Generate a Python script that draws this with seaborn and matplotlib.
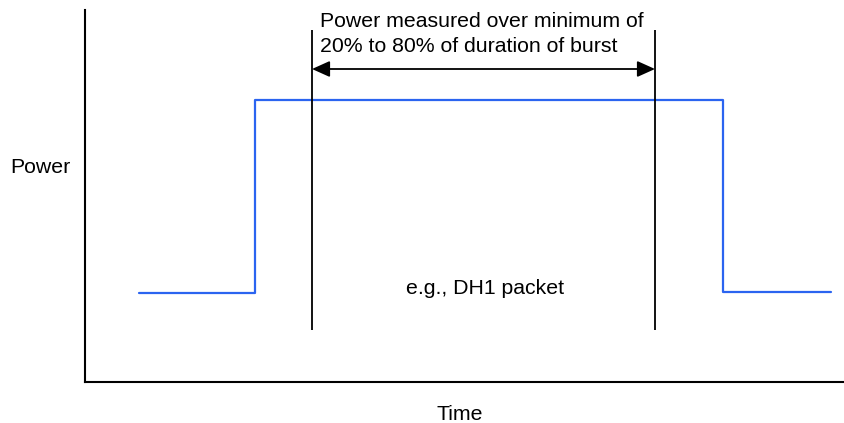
"""
plot.py
Diagrama de medição de potência de um burst (DH1) com seaborn/matplotlib.
"""

import matplotlib
matplotlib.use('Agg')
import matplotlib.pyplot as plt
import seaborn as sns
import pandas as pd

# ------------------------------------------------------------
# 0. Dados (unidades arbitrárias: tempo x potência)
# ------------------------------------------------------------
burst_time = [54, 170, 638, 746]
burst_power = [89, 282, 90, 90]

window_start = 227
window_end = 570
window_bottom = 52
window_top = 352
arrow_level = 313

x_range = (0, 759)
y_range = (0, 372)

title_text = "Power measured over minimum of\n20% to 80% of duration of burst"
packet_text = "e.g., DH1 packet"
x_label = "Time"
y_label = "Power"

FONT_SIZE = 15.3

# ------------------------------------------------------------
# 1. Estilo
# ------------------------------------------------------------
sns.set_theme(style='white')
plt.rcParams['font.family'] = ['Liberation Sans', 'DejaVu Sans']
plt.rcParams['text.color'] = 'black'
plt.rcParams['axes.labelcolor'] = 'black'

df = pd.DataFrame({'time': burst_time, 'power': burst_power})

fig = plt.figure(figsize=(8.44, 4.23), dpi=100)
ax = fig.add_axes([85 / 844, 41 / 423, 759 / 844, 372 / 423])

# ------------------------------------------------------------
# 2. Sinal do burst
# ------------------------------------------------------------
sns.lineplot(data=df, x='time', y='power', ax=ax, color='#2b64f0',
             linewidth=1.6, drawstyle='steps-post', sort=False)

# janela de medição
for xv in (window_start, window_end):
    ax.vlines(xv, window_bottom, window_top, color='black', linewidth=1.3)

ax.annotate('', xy=(window_start, arrow_level), xytext=(window_end, arrow_level),
            arrowprops=dict(arrowstyle='<|-|>,head_length=0.6,head_width=0.27',
                            color='black', lw=1.3, mutation_scale=18,
                            shrinkA=0, shrinkB=0))

ax.text(window_start + 8, 370, title_text, ha='left', va='top',
        fontsize=FONT_SIZE, linespacing=1.42)
ax.text(400, 93, packet_text, ha='center', va='center', fontsize=FONT_SIZE)

# ------------------------------------------------------------
# 3. Eixos
# ------------------------------------------------------------
ax.set_xlim(*x_range)
ax.set_ylim(*y_range)
ax.set_xticks([])
ax.set_yticks([])
for side in ('top', 'right'):
    ax.spines[side].set_visible(False)
for side in ('left', 'bottom'):
    ax.spines[side].set_color('black')
    ax.spines[side].set_linewidth(1.5)

ax.set_xlabel(x_label, fontsize=FONT_SIZE)
ax.xaxis.set_label_coords((460 - 85) / 759, -0.061)
ax.set_ylabel(y_label, fontsize=FONT_SIZE, rotation=0, ha='center', va='center')
ax.yaxis.set_label_coords((40 - 85) / 759, (382 - 168) / 372)

fig.savefig('out.png', dpi=100)
plt.close(fig)
